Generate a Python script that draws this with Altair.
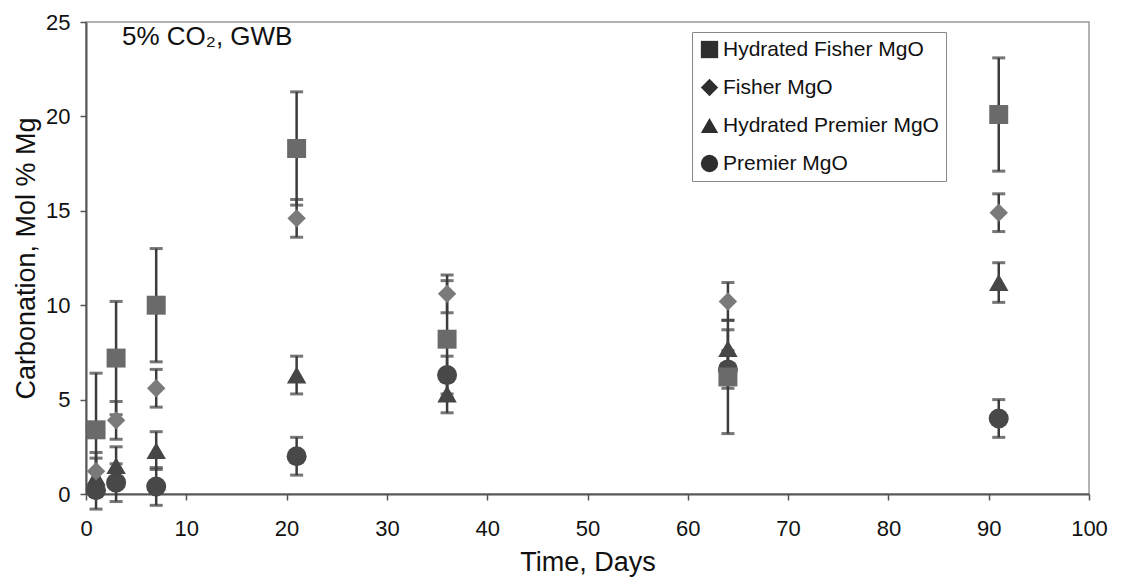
import altair as alt
import pandas as pd

# ---- data ----
days = [1, 3, 7, 21, 36, 64, 91]
series_names = ["Hydrated Fisher MgO", "Fisher MgO", "Hydrated Premier MgO", "Premier MgO"]

hyd_fisher = [3.4, 7.2, 10.0, 18.3, 8.2, 6.2, 20.1]
hyd_fisher_err = [3.0, 3.0, 3.0, 3.0, 3.1, 3.0, 3.0]

fisher = [1.2, 3.9, 5.6, 14.6, 10.6, 10.2, 14.9]
fisher_err = [1.0, 1.0, 1.0, 1.0, 1.0, 1.0, 1.0]

hyd_premier = [0.9, 1.5, 2.3, 6.3, 5.3, 7.7, 11.2]
hyd_premier_err = [1.0, 1.0, 1.0, 1.0, 1.0, 1.0, 1.05]

premier = [0.2, 0.6, 0.4, 2.0, 6.3, 6.6, 4.0]
premier_err = [1.0, 1.0, 1.0, 1.0, 1.0, 1.0, 1.0]

x_ticks = [0, 10, 20, 30, 40, 50, 60, 70, 80, 90, 100]
y_ticks = [0, 5, 10, 15, 20, 25]
annotation = "5% CO\u2082, GWB"

# ---- table ----
rows = []
for i, (name, vals, errs) in enumerate(zip(
        series_names,
        [hyd_fisher, fisher, hyd_premier, premier],
        [hyd_fisher_err, fisher_err, hyd_premier_err, premier_err])):
    for d, v, e in zip(days, vals, errs):
        rows.append({"series": name, "sz": name, "col": name, "day": d, "value": v,
                     "lo": v - e, "hi": v + e, "ord": len(series_names) - i})
df = pd.DataFrame(rows)

FONT = "Liberation Sans"

x_enc = alt.X("day:Q", scale=alt.Scale(domain=[0, 100], nice=False),
              axis=alt.Axis(values=x_ticks, title="Time, Days"))
y_scale = alt.Scale(domain=[0, 25], nice=False)
y_axis = alt.Axis(values=y_ticks, title="Carbonation, Mol % Mg")

base = alt.Chart(df)

rules = base.mark_rule(color="#3c3c3c", strokeWidth=2.5).encode(
    x=x_enc,
    y=alt.Y("lo:Q", scale=y_scale, axis=y_axis),
    y2="hi:Q",
)
caps_lo = base.mark_tick(color="#3c3c3c", orient="horizontal", size=13, thickness=3).encode(
    x="day:Q", y=alt.Y("lo:Q"))
caps_hi = base.mark_tick(color="#3c3c3c", orient="horizontal", size=13, thickness=3).encode(
    x="day:Q", y=alt.Y("hi:Q"))

# size / colour scales use the sorted field domain:
# Fisher MgO, Hydrated Fisher MgO, Hydrated Premier MgO, Premier MgO
points = base.mark_point(filled=True, opacity=1).encode(
    x="day:Q",
    y=alt.Y("value:Q"),
    shape=alt.Shape("series:N",
                    scale=alt.Scale(domain=series_names,
                                    range=["square", "diamond", "triangle-up", "circle"]),
                    legend=alt.Legend(title=None, orient="none", legendX=606, legendY=10)),
    size=alt.Size("sz:N", scale=alt.Scale(range=[340, 400, 420, 420]), legend=None),
    color=alt.Color("col:N",
                    scale=alt.Scale(range=["#7a7a7a", "#6a6a6a", "#464646", "#484848"]),
                    legend=None),
    order=alt.Order("ord:Q"),
)

label = alt.Chart(pd.DataFrame({"t": [annotation]})).mark_text(
    align="left", baseline="top", fontSize=26, font=FONT, color="#111111"
).encode(x=alt.value(36), y=alt.value(2), text="t:N")

chart = alt.layer(rules, caps_lo, caps_hi, points, label).properties(
    width=1003, height=472,
    autosize=alt.AutoSizeParams(type="none"),
    padding={"left": 86, "top": 22, "right": 32, "bottom": 87},
).configure_view(
    stroke="#9a9a9a", strokeWidth=1.5
).configure_legend(
    labelFontSize=21, labelFont=FONT, labelColor="#111111", labelLimit=0,
    symbolSize=300, symbolFillColor="#2e2e2e", symbolStrokeColor="#2e2e2e",
    symbolStrokeWidth=0,
    labelOffset=3, rowPadding=16, padding=7, strokeColor="#888888", fillColor="white",
).configure_axis(
    grid=False, labelFont=FONT, titleFont=FONT, labelFontSize=22, titleFontSize=27,
    titleFontWeight="normal", labelColor="#111111", titleColor="#111111",
    domainColor="#555555", domainWidth=2, tickColor="#555555", tickWidth=1.5, tickSize=6,
    labelFlush=False,
).configure_axisX(
    labelPadding=18, titlePadding=10
).configure_axisY(
    labelPadding=10, titlePadding=5
)

chart.save("out.html", embed_options={"renderer": "svg", "actions": False})
